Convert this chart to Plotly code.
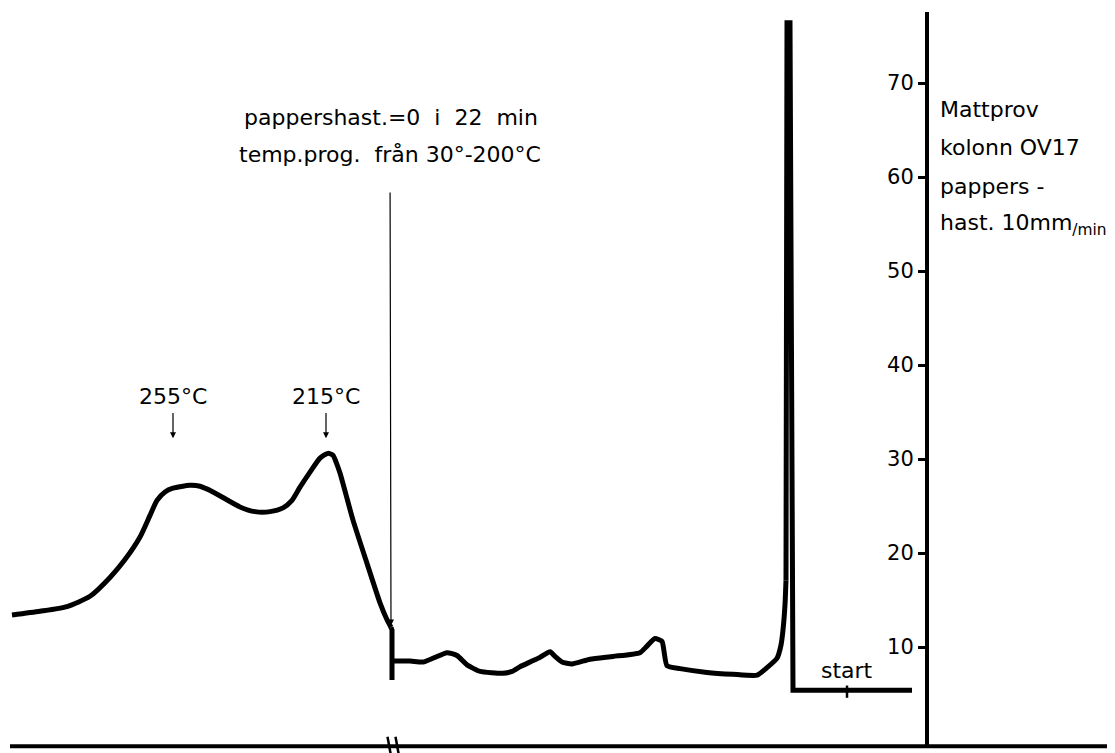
import plotly.graph_objects as go

# Chromatogram (x: chart-paper position in cm, y: detector signal in scale units)
# left hump (recorded after paper stop)
hump_x = [1.2, 4.0, 6.7, 9.0, 11.0, 12.5, 14.0, 15.0, 15.7, 16.5, 17.3, 19.0, 20.0, 21.3,
          24.0, 25.5, 27.0, 28.3, 29.2, 30.0, 31.0, 32.0, 32.8, 33.3, 33.6, 34.0, 35.3,
          36.7, 38.0, 38.7, 39.1]
hump_y = [13.4, 13.8, 14.3, 15.4, 17.4, 19.3, 21.7, 24.0, 25.6, 26.5, 26.9, 27.2, 27.1, 26.5,
          24.9, 24.4, 24.4, 24.8, 25.6, 27.0, 28.6, 30.1, 30.6, 30.4, 29.7, 28.5, 23.5,
          18.9, 14.7, 12.9, 12.1]
# pen drop at the paper stop
drop_x = [39.1, 39.2, 39.2, 39.2]
drop_y = [12.1, 11.8, 6.5, 8.5]
# baseline before paper stop
base_x = [39.2, 41.0, 42.3, 43.5, 44.7, 45.7, 46.7, 48.0, 50.3, 51.2, 52.0, 53.2, 54.0,
          55.0, 55.5, 56.2, 57.2, 59.0, 61.3, 64.0, 64.7, 65.5, 66.2, 66.7, 68.0, 70.7,
          73.3, 75.7, 76.7, 77.7, 78.1, 78.3, 78.5, 78.6]
base_y = [8.5, 8.5, 8.4, 8.9, 9.4, 9.1, 8.1, 7.4, 7.2, 7.4, 7.9, 8.5, 8.9,
          9.5, 9.0, 8.4, 8.2, 8.7, 9.0, 9.4, 10.1, 10.9, 10.6, 8.0, 7.7, 7.3,
          7.1, 7.0, 7.8, 8.8, 10.2, 11.8, 14.5, 17.1]
# solvent peak and start line
solvent_x = [78.6, 78.7, 79.0, 79.3, 91.2]
solvent_y = [17.1, 76.4, 76.4, 5.4, 5.4]

y_ticks = [10, 20, 30, 40, 50, 60, 70]
y_tick_labels = ["10", "20", "30", "40", "50", "60", "70"]

peak_labels = ["255°C", "215°C"]
peak_label_x = [17.3, 32.6]

FONT = "DejaVu Sans"
FS = 22
# the page body adds an 8 px offset; ranges are chosen to compensate
W, H = 1107, 745

fig = go.Figure()
line = dict(color="black", width=5)
fig.add_trace(go.Scatter(x=hump_x, y=hump_y, mode="lines", line=dict(line, shape="spline", smoothing=0.6),
                         showlegend=False, hoverinfo="skip"))
fig.add_trace(go.Scatter(x=drop_x, y=drop_y, mode="lines", line=line,
                         showlegend=False, hoverinfo="skip"))
fig.add_trace(go.Scatter(x=base_x, y=base_y, mode="lines", line=dict(line, shape="spline", smoothing=0.5),
                         showlegend=False, hoverinfo="skip"))
fig.add_trace(go.Scatter(x=solvent_x, y=solvent_y, mode="lines", line=line,
                         showlegend=False, hoverinfo="skip"))

# axis lines drawn as shapes
fig.add_shape(type="line", x0=92.7, x1=92.7, y0=-0.5, y1=77.55,
              line=dict(color="black", width=4))
fig.add_shape(type="line", x0=1.0, x1=111.5, y0=-0.55, y1=-0.55,
              line=dict(color="black", width=4))
# break marks
for bx in [38.9, 39.7]:
    fig.add_shape(type="line", x0=bx - 0.15, x1=bx + 0.15, y0=0.45, y1=-1.3,
                  line=dict(color="black", width=2.5))
# start tick
fig.add_shape(type="line", x0=84.7, x1=84.7, y0=5.9, y1=4.6,
              line=dict(color="black", width=2.5))

ann = []
for lab, lx in zip(peak_labels, peak_label_x):
    ann.append(dict(x=lx, y=32.2, ax=lx, ay=36.6, xref="x", yref="y", axref="x", ayref="y",
                    text=lab, showarrow=True, arrowhead=2, arrowsize=1, arrowwidth=1.2,
                    arrowcolor="black", startstandoff=2,
                    font=dict(family=FONT, size=FS, color="black")))
ann.append(dict(x=24.2, y=66.3, xref="x", yref="y", xanchor="left", yanchor="middle",
                text="pappershast.=0  i  22  min", showarrow=False,
                font=dict(family=FONT, size=FS, color="black")))
ann.append(dict(x=39.1, y=12.3, ax=39.0, ay=62.4, xref="x", yref="y", axref="x", ayref="y",
                text="temp.prog.  från 30°-200°C", showarrow=True, arrowhead=2, arrowsize=1,
                arrowwidth=1.2, arrowcolor="black", startstandoff=24,
                font=dict(family=FONT, size=FS, color="black")))
right_lines = ["Mattprov", "kolonn OV17", "pappers -", "hast. 10mm<sub>/min</sub>"]
right_y = [67.2, 63.1, 59.0, 54.9]
for t, yy in zip(right_lines, right_y):
    ann.append(dict(x=93.8, y=yy, xref="x", yref="y", xanchor="left", yanchor="middle",
                    text=t, showarrow=False,
                    font=dict(family=FONT, size=FS, color="black")))
ann.append(dict(x=84.7, y=7.5, xref="x", yref="y", text="start", showarrow=False,
                font=dict(family=FONT, size=FS, color="black")))

fig.update_layout(
    width=W, height=H,
    margin=dict(l=0, r=0, t=0, b=0),
    paper_bgcolor="white", plot_bgcolor="white",
    annotations=ann,
    xaxis=dict(range=[0.8, 0.8 + W / 10], visible=False, domain=[0, 1]),
    yaxis=dict(range=[77.98 - H / 9.4, 77.98], anchor="free", position=919 / W, side="left",
               tickvals=y_ticks, ticktext=y_tick_labels, ticks="outside", ticklen=9,
               tickwidth=3, tickcolor="black", showline=False, showgrid=False,
               zeroline=False, tickfont=dict(family=FONT, size=21, color="black")),
)

fig.write_html("out.html")
